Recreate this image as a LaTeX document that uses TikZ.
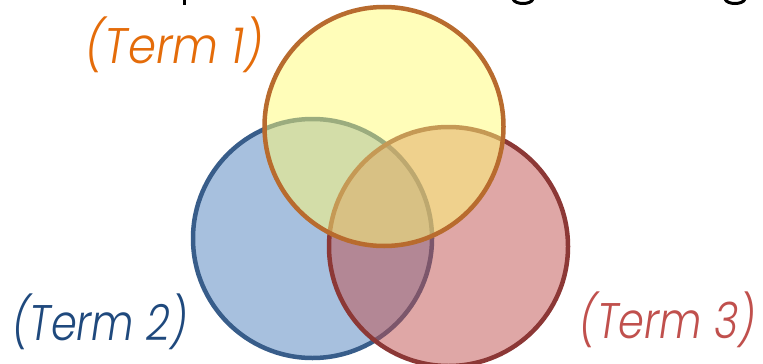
\documentclass[tikz,border=0pt]{standalone}
\usepackage{fontspec}
\setmainfont{Poppins}[ItalicFont={Poppins Light Italic}]
\definecolor{bluefill}{HTML}{4F81BD}
\definecolor{blueline}{HTML}{385D8A}
\definecolor{redfill}{HTML}{C0504D}
\definecolor{redline}{HTML}{8C3836}
\definecolor{yelfill}{HTML}{FFFB74}
\definecolor{yelline}{HTML}{B86B2E}
\definecolor{termone}{HTML}{E46C0A}
\definecolor{termtwo}{HTML}{1F497D}
\definecolor{termthree}{HTML}{C0504D}
\newcommand{\termtext}[2][0.83]{\scalebox{#1}[1]{#2}}
\tikzset{
  venn/.style={circle, minimum size=239pt, inner sep=0pt, line width=4.5pt, fill opacity=0.5, draw opacity=1},
  termlabel/.style={anchor=base east, inner sep=0pt, font=\fontsize{50}{54}\selectfont\itshape},
  frag/.style={line width=3pt, black}
}
\begin{document}
\begin{tikzpicture}[x=1pt,y=-1pt]
\useasboundingbox (0,0) rectangle (763,364);
\node[venn, draw=blueline, fill=bluefill] (blue) at (312.5,238.5) {};
\node[venn, draw=redline, fill=redfill] (red) at (448.5,246.5) {};
\node[venn, draw=yelline, fill=yelfill] (yellow) at (384,126.5) {};
\node[termlabel, text=termone] (t1) at (264,63) {\termtext[0.9]{(Term 1)}};
\node[termlabel, text=termtwo] (t2) at (188,340) {\termtext{(Term 2)}};
\node[termlabel, text=termthree] (t3) at (756,338) {\termtext{(Term 3)}};
% cut-off descenders of a line above the picture
\draw[frag] (184.5,-1) -- (184.5,4.5);
\draw[frag] (513,-1) .. controls (515,5) and (531,5) .. (533,-1);
\draw[frag] (725,-1) .. controls (727,5) and (743,5) .. (745,-1);
\end{tikzpicture}
\end{document}
